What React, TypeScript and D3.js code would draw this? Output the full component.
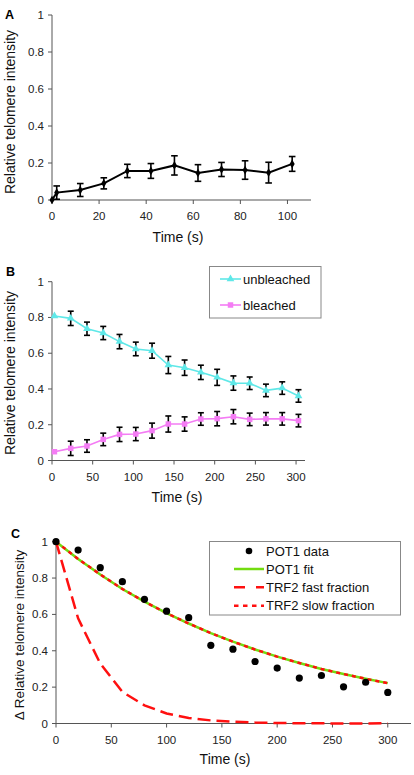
import React from "react";
import * as d3 from "d3";

// ---------- Data ----------
const timeA = [0, 2, 12, 22, 32, 42, 52, 62, 72, 82, 92, 102];
const valueA = [0, 0.04, 0.054, 0.09, 0.157, 0.157, 0.187, 0.146, 0.165, 0.162, 0.148, 0.195];
const errorA = [0, 0.036, 0.035, 0.03, 0.036, 0.04, 0.052, 0.045, 0.038, 0.05, 0.056, 0.04];
const ticksXA = [0, 20, 40, 60, 80, 100];

const timeB = [3, 23, 43, 63, 83, 103, 123, 143, 163, 183, 203, 223, 243, 263, 283, 303];
const unbleached = [0.808, 0.795, 0.737, 0.713, 0.665, 0.624, 0.614, 0.534, 0.519, 0.493, 0.465, 0.433, 0.432, 0.392, 0.405, 0.361];
const unbleachedErr = [0, 0.04, 0.037, 0.037, 0.04, 0.038, 0.042, 0.048, 0.043, 0.04, 0.045, 0.04, 0.035, 0.035, 0.035, 0.035];
const bleached = [0.049, 0.068, 0.081, 0.118, 0.146, 0.148, 0.167, 0.204, 0.204, 0.232, 0.234, 0.245, 0.23, 0.233, 0.233, 0.223];
const bleachedErr = [0, 0.04, 0.035, 0.035, 0.04, 0.037, 0.042, 0.045, 0.04, 0.035, 0.04, 0.04, 0.035, 0.035, 0.035, 0.035];
const ticksXB = [0, 50, 100, 150, 200, 250, 300];

const timeC = [0, 20, 40, 60, 80, 100, 120, 140, 160, 180, 200, 220, 240, 260, 280, 300];
const pot1Data = [1, 0.954, 0.857, 0.78, 0.683, 0.618, 0.582, 0.43, 0.409, 0.341, 0.305, 0.25, 0.264, 0.202, 0.227, 0.171];
const pot1Fit = [1, 0.905, 0.82, 0.74, 0.67, 0.607, 0.55, 0.497, 0.45, 0.407, 0.368, 0.333, 0.3, 0.272, 0.246, 0.222];
const trf2Fast = [1, 0.578, 0.33, 0.174, 0.1, 0.055, 0.03, 0.017, 0.01, 0.005, 0.003, 0.001, 0.001, 0, 0, 0.001];
const trf2Slow = [1, 0.905, 0.82, 0.74, 0.67, 0.607, 0.55, 0.497, 0.45, 0.407, 0.368, 0.333, 0.3, 0.272, 0.246, 0.222];
const ticksXC = [0, 50, 100, 150, 200, 250, 300];

const ticksY = [0, 0.2, 0.4, 0.6, 0.8, 1];
const yLabel = "Relative telomere intensity";
const yLabelC = "Δ Relative telomere intensity";
const xLabel = "Time (s)";

const FONT = "'Liberation Sans', Arial, Helvetica, sans-serif";
const AXIS = "#555";
const CYAN = "#5fe8e8";
const PINK = "#f47cf4";
const GREEN = "#73dc10";
const RED = "#ff1010";

type Scale = d3.ScaleLinear<number, number>;

function Axes({ x, y, xticks }: { x: Scale; y: Scale; xticks: number[] }) {
  const [x0, x1] = x.range();
  const [y0, y1] = y.range();
  return (
    <g fontFamily={FONT} fontSize={11.5} fill="#222">
      <line x1={x0} x2={x0} y1={y0} y2={y1} stroke={AXIS} strokeWidth={1} />
      <line x1={x0} x2={x1} y1={y0} y2={y0} stroke={AXIS} strokeWidth={1} />
      {ticksY.map((t) => (
        <g key={"y" + t}>
          <line x1={x0 - 4} x2={x0} y1={y(t)} y2={y(t)} stroke={AXIS} />
          <text x={x0 - 8} y={y(t)} dy="0.35em" textAnchor="end">
            {String(t)}
          </text>
        </g>
      ))}
      {xticks.map((t) => (
        <g key={"x" + t}>
          <line x1={x(t)} x2={x(t)} y1={y0} y2={y0 + 4} stroke={AXIS} />
          <text x={x(t)} y={y0 + 20} textAnchor="middle">
            {String(t)}
          </text>
        </g>
      ))}
    </g>
  );
}

function ErrorBars({ x, y, xs, ys, es, cap }: { x: Scale; y: Scale; xs: number[]; ys: number[]; es: number[]; cap: number }) {
  return (
    <g stroke="#000" strokeWidth={1.6}>
      {xs.map((t, i) =>
        es[i] > 0 ? (
          <g key={i}>
            <line x1={x(t)} x2={x(t)} y1={y(ys[i] - es[i])} y2={y(ys[i] + es[i])} />
            <line x1={x(t) - cap} x2={x(t) + cap} y1={y(ys[i] - es[i])} y2={y(ys[i] - es[i])} />
            <line x1={x(t) - cap} x2={x(t) + cap} y1={y(ys[i] + es[i])} y2={y(ys[i] + es[i])} />
          </g>
        ) : null
      )}
    </g>
  );
}

export default function App() {
  // Panel A
  const xA = d3.scaleLinear().domain([0, 110]).range([52, 311]);
  const yA = d3.scaleLinear().domain([0, 1]).range([200, 15]);
  // Panel B
  const xB = d3.scaleLinear().domain([0, 311]).range([52, 305]);
  const yB = d3.scaleLinear().domain([0, 1]).range([460.5, 281.7]);
  // Panel C
  const xC = d3.scaleLinear().domain([0, 321]).range([56, 411]);
  const yC = d3.scaleLinear().domain([0, 1]).range([723.5, 541.7]);

  const lineA = d3.line<number>().x((_, i) => xA(timeA[i])).y((v) => yA(v));
  const lineB = d3.line<number>().x((_, i) => xB(timeB[i])).y((v) => yB(v));
  const lineC = d3.line<number>().x((_, i) => xC(timeC[i])).y((v) => yC(v));
  const diamond = d3.symbol().type(d3.symbolDiamond).size(22)()!;
  const tri = d3.symbol().type(d3.symbolTriangle).size(26)()!;
  const sq = d3.symbol().type(d3.symbolSquare).size(30)()!;

  return (
    <svg width={414} height={775} style={{ position: "absolute", left: 0, top: 0, background: "#fff" }}>
      <rect width={414} height={775} fill="#fff" />
      {/* ---------- Panel A ---------- */}
      <text x={5} y={18.5} fontFamily={FONT} fontWeight="bold" fontSize={12.5}>A</text>
      <Axes x={xA} y={yA} xticks={ticksXA} />
      <path d={lineA(valueA)!} fill="none" stroke="#000" strokeWidth={2} />
      <ErrorBars x={xA} y={yA} xs={timeA} ys={valueA} es={errorA} cap={3.3} />
      {valueA.map((v, i) => (
        <path key={i} d={diamond} transform={`translate(${xA(timeA[i])},${yA(v)})`} fill="#000" />
      ))}
      <text transform="translate(15,112) rotate(-90)" textAnchor="middle" fontFamily={FONT} fontSize={14} fill="#111">{yLabel}</text>
      <text x={178} y={242} textAnchor="middle" fontFamily={FONT} fontSize={14} fill="#111">{xLabel}</text>

      {/* ---------- Panel B ---------- */}
      <text x={6} y={276} fontFamily={FONT} fontWeight="bold" fontSize={12.5}>B</text>
      <Axes x={xB} y={yB} xticks={ticksXB} />
      <ErrorBars x={xB} y={yB} xs={timeB} ys={unbleached} es={unbleachedErr} cap={3} />
      <ErrorBars x={xB} y={yB} xs={timeB} ys={bleached} es={bleachedErr} cap={3} />
      <path d={lineB(unbleached)!} fill="none" stroke={CYAN} strokeWidth={1.6} />
      <path d={lineB(bleached)!} fill="none" stroke={PINK} strokeWidth={1.6} />
      {unbleached.map((v, i) => (
        <path key={"u" + i} d={tri} transform={`translate(${xB(timeB[i])},${yB(v)})`} fill={CYAN} />
      ))}
      {bleached.map((v, i) => (
        <path key={"b" + i} d={sq} transform={`translate(${xB(timeB[i])},${yB(v)})`} fill={PINK} />
      ))}
      <text transform="translate(15,373) rotate(-90)" textAnchor="middle" fontFamily={FONT} fontSize={14} fill="#111">{yLabel}</text>
      <text x={177} y={502} textAnchor="middle" fontFamily={FONT} fontSize={14} fill="#111">{xLabel}</text>
      {/* legend B */}
      <g fontFamily={FONT} fontSize={13} fill="#111">
        <rect x={209.5} y={266.5} width={111.5} height={51.5} fill="#fff" stroke="#888" strokeWidth={1} />
        <line x1={220} x2={241} y1={279} y2={279} stroke={CYAN} strokeWidth={1.6} />
        <path d={tri} transform="translate(230.5,279)" fill={CYAN} />
        <text x={243} y={279} dy="0.35em">unbleached</text>
        <line x1={220} x2={241} y1={305} y2={305} stroke={PINK} strokeWidth={1.6} />
        <path d={sq} transform="translate(230.5,305)" fill={PINK} />
        <text x={243} y={305} dy="0.35em">bleached</text>
      </g>

      {/* ---------- Panel C ---------- */}
      <text x={11} y={538} fontFamily={FONT} fontWeight="bold" fontSize={12.5}>C</text>
      <Axes x={xC} y={yC} xticks={ticksXC} />
      <path d={lineC(pot1Fit)!} fill="none" stroke={GREEN} strokeWidth={2.5} />
      <path d={lineC(trf2Slow)!} fill="none" stroke={RED} strokeWidth={2.5} strokeDasharray="4,4" />
      <path d={lineC(trf2Fast)!} fill="none" stroke={RED} strokeWidth={2.5} strokeDasharray="13,6" />
      {pot1Data.map((v, i) => (
        <circle key={"p" + i} cx={xC(timeC[i])} cy={yC(v)} r={3.6} fill="#000" />
      ))}
      <text transform="translate(24,635) rotate(-90)" textAnchor="middle" fontFamily={FONT} fontSize={13.5} fill="#111">{yLabelC}</text>
      <text x={225} y={764} textAnchor="middle" fontFamily={FONT} fontSize={14} fill="#111">{xLabel}</text>
      {/* legend C */}
      <g fontFamily={FONT} fontSize={13} fill="#111">
        <rect x={209.5} y={541.5} width={191} height={73.5} fill="#fff" stroke="#888" strokeWidth={1} />
        <circle cx={249} cy={551} r={3.3} fill="#000" />
        <text x={266} y={551} dy="0.35em">POT1 data</text>
        <line x1={234} x2={264} y1={569} y2={569} stroke={GREEN} strokeWidth={2.5} />
        <text x={266} y={569} dy="0.35em">POT1 fit</text>
        <line x1={234} x2={264} y1={587.3} y2={587.3} stroke={RED} strokeWidth={2.5} strokeDasharray="11,11" />
        <text x={266} y={587.3} dy="0.35em">TRF2 fast fraction</text>
        <line x1={234} x2={264} y1={605.7} y2={605.7} stroke={RED} strokeWidth={2.5} strokeDasharray="4.5,4.5" />
        <text x={266} y={605.7} dy="0.35em">TRF2 slow fraction</text>
      </g>
    </svg>
  );
}
